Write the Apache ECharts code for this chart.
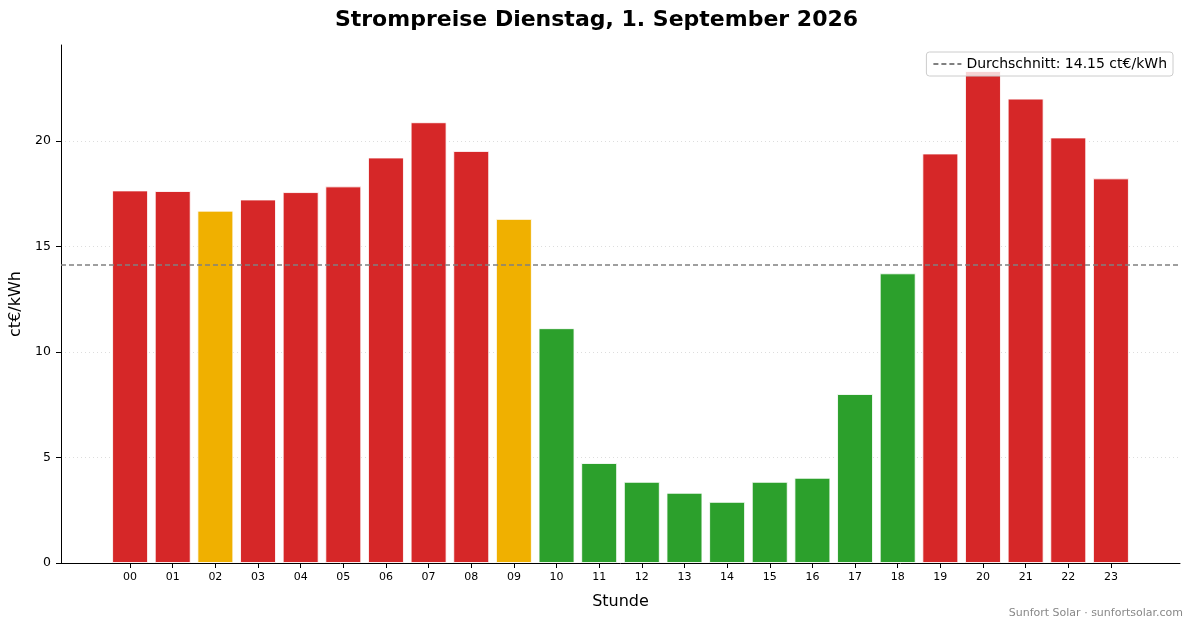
<!DOCTYPE html>
<html>
<head>
<meta charset="utf-8">
<script src="https://cdn.jsdelivr.net/npm/echarts@6/dist/echarts.min.js"></script>
<style>
  html, body { margin: 0; padding: 0; background: #fff; }
  #chart { width: 1193px; height: 628px; }
</style>
</head>
<body>
<div id="chart"></div>
<script>
// Stunden 00..23
var hours = ['00', '01', '02', '03', '04', '05', '06', '07', '08', '09', '10', '11',
             '12', '13', '14', '15', '16', '17', '18', '19', '20', '21', '22', '23'];
// Preise in ct/kWh
var prices = [17.66, 17.63, 16.70, 17.23, 17.58, 17.85, 19.22, 20.89, 19.53, 16.31, 11.13, 4.74,
              3.85, 3.33, 2.90, 3.85, 4.04, 8.01, 13.73, 19.41, 23.32, 22.01, 20.17, 18.23];
// Preisstufe je Stunde: h = hoch, m = mittel, n = niedrig
var levels = ['h', 'h', 'm', 'h', 'h', 'h', 'h', 'h', 'h', 'm', 'n', 'n',
              'n', 'n', 'n', 'n', 'n', 'n', 'n', 'h', 'h', 'h', 'h', 'h'];
var average = 14.15;
var yTicks = [0, 5, 10, 15, 20];

var levelColors = { h: '#d62728', m: '#f0b000', n: '#2ca02c' };
var font = 'DejaVu Sans';

var barData = prices.map(function (v, i) {
    return {
        value: [i, v],
        itemStyle: { color: levelColors[levels[i]] }
    };
});
var hourIdx = hours.map(function (h, i) { return i; });
var avgName = 'Durchschnitt: ' + average.toFixed(2) + ' ct€/kWh';

var chart = echarts.init(document.getElementById('chart'));
var option = {
    animation: false,
    textStyle: { fontFamily: font },
    title: {
        text: 'Strompreise Dienstag, 1. September 2026',
        left: 'center',
        top: 4,
        textStyle: { fontFamily: font, fontSize: 22, fontWeight: 'bold', color: '#000' }
    },
    graphic: [{
        type: 'text',
        right: 10,
        top: 608,
        style: {
            text: 'Sunfort Solar · sunfortsolar.com',
            fill: '#888',
            font: '11px "DejaVu Sans"'
        }
    }],
    legend: {
        right: 20,
        top: 52,
        padding: [5, 6, 5, 6],
        itemWidth: 28,
        itemHeight: 14,
        itemGap: 10,
        backgroundColor: 'rgba(255,255,255,0.8)',
        borderColor: '#cccccc',
        borderWidth: 1,
        borderRadius: 3,
        itemStyle: { opacity: 0 },
        textStyle: { fontFamily: font, fontSize: 14, color: '#000' },
        data: [avgName]
    },
    grid: { left: 61, right: 13, top: 45, bottom: 65, containLabel: false },
    xAxis: {
        type: 'value',
        min: -1.62,
        max: 24.62,
        name: 'Stunde',
        nameLocation: 'middle',
        nameGap: 31,
        nameTextStyle: { fontFamily: font, fontSize: 16, color: '#000' },
        axisLine: { onZero: false, lineStyle: { color: '#000', width: 1 } },
        axisTick: { show: true, length: 5, customValues: hourIdx, lineStyle: { color: '#000' } },
        axisLabel: {
            customValues: hourIdx,
            margin: 9,
            fontSize: 11,
            color: '#000',
            formatter: function (v) { return hours[Math.round(v)]; }
        },
        splitLine: { show: false }
    },
    yAxis: {
        type: 'value',
        min: 0,
        max: 24.55,
        name: 'ct€/kWh',
        nameLocation: 'middle',
        nameGap: 33,
        nameTextStyle: { fontFamily: font, fontSize: 16, color: '#000' },
        axisLine: { show: true, onZero: false, lineStyle: { color: '#000', width: 1 } },
        axisTick: { show: true, length: 5, customValues: yTicks, lineStyle: { color: '#000' } },
        axisLabel: { customValues: yTicks, margin: 10, fontSize: 12.5, color: '#000' },
        splitLine: {
            show: true,
            lineStyle: { color: '#dddddd', type: [1, 3], width: 1 }
        }
    },
    series: [
        {
            type: 'bar',
            barWidth: 36,
            data: barData,
            itemStyle: { borderColor: 'rgba(255,255,255,0.85)', borderWidth: 1 },
            z: 3
        },
        {
            name: avgName,
            type: 'line',
            data: [],
            symbol: 'none',
            showSymbol: false,
            color: '#808080',
            lineStyle: { color: '#808080', type: [5, 3], width: 1.5 },
            markLine: {
                silent: true,
                symbol: 'none',
                label: { show: false },
                lineStyle: { color: '#808080', type: [5, 3], width: 1.5 },
                data: [{ yAxis: average }]
            },
            z: 4
        }
    ]
};
chart.setOption(option);
</script>
</body>
</html>
